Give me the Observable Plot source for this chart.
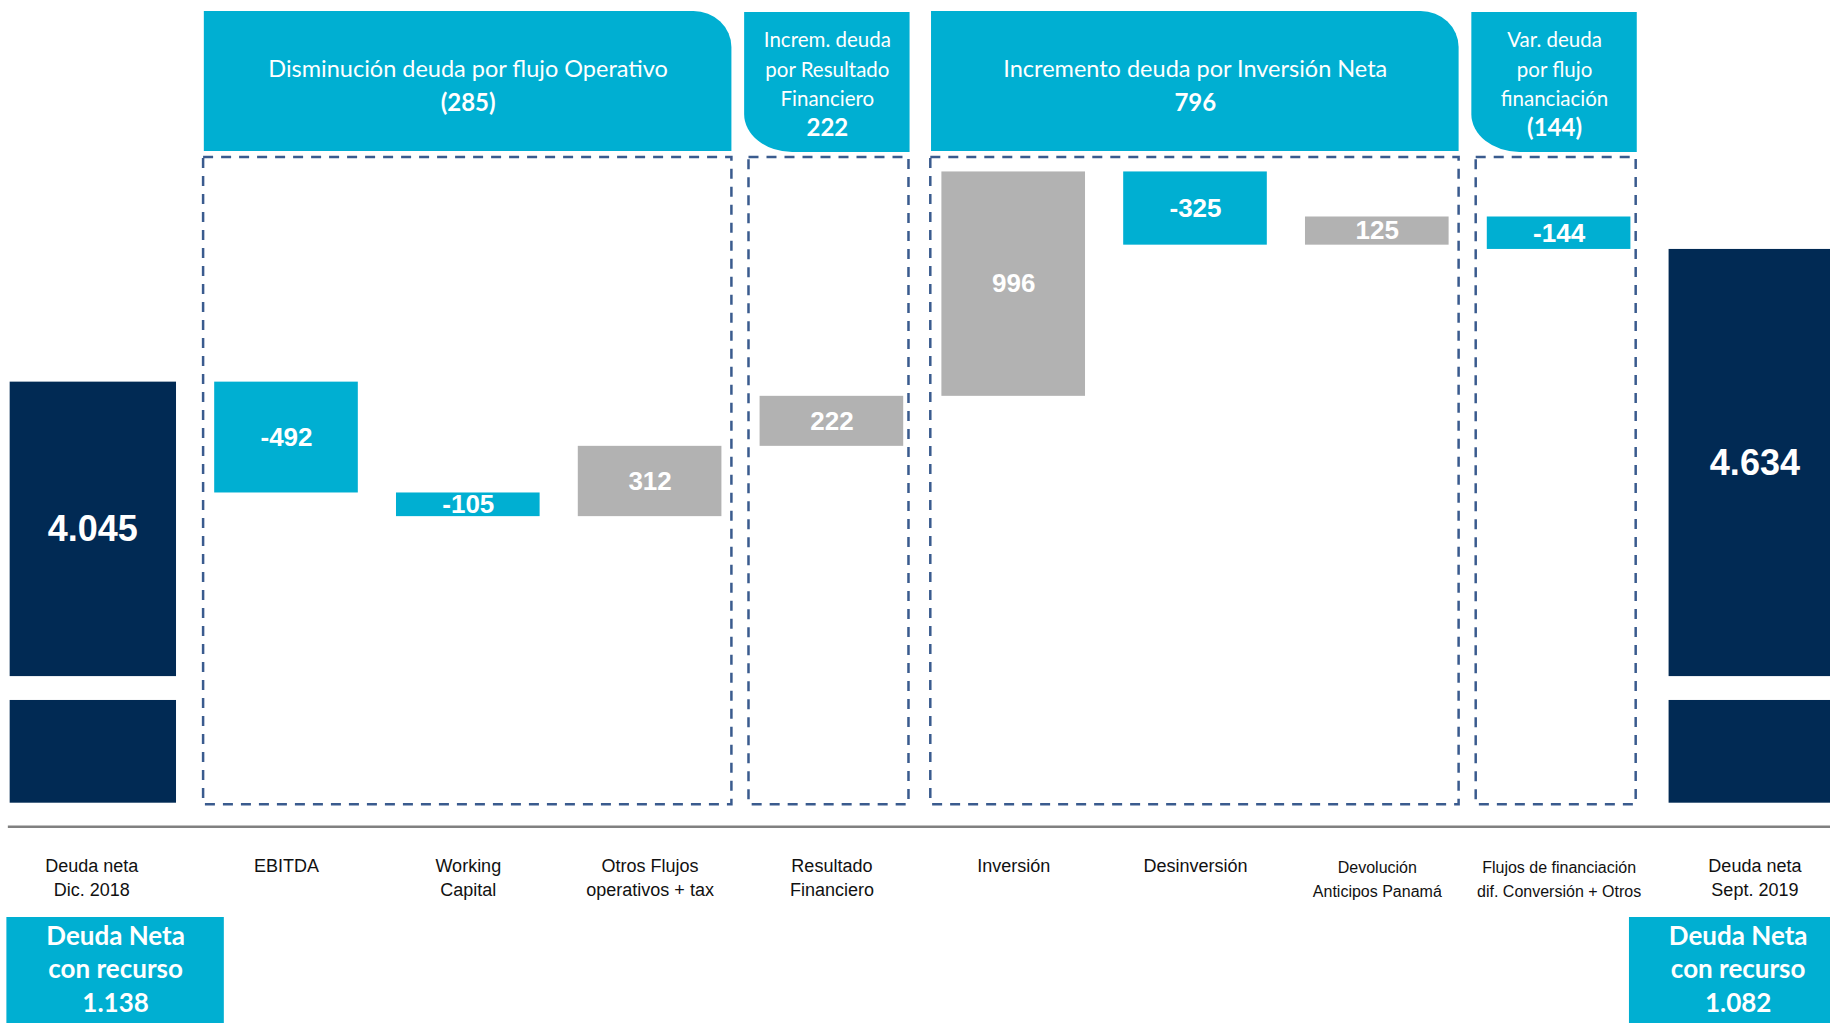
<!DOCTYPE html>
<html>
<head>
<meta charset="utf-8">
<script src="https://cdn.jsdelivr.net/npm/d3@7"></script>
<script src="https://cdn.jsdelivr.net/npm/@observablehq/plot@0.6"></script>
<style>
  html, body { margin: 0; padding: 0; background: #fff; overflow: hidden; }
  #chart svg { display: block; }
</style>
</head>
<body>
<div id="chart"></div>
<script>
// ---------------- DATA ----------------
const categories = [
  "Deuda neta\nDic. 2018",
  "EBITDA",
  "Working\nCapital",
  "Otros Flujos\noperativos + tax",
  "Resultado\nFinanciero",
  "Inversión",
  "Desinversión",
  "Devolución\nAnticipos Panamá",
  "Flujos de financiación\ndif. Conversión + Otros",
  "Deuda neta\nSept. 2019"
];
const barTypes = ["total", "flow", "flow", "flow", "flow", "flow", "flow", "flow", "flow", "total"];
const values = [4045, -492, -105, 312, 222, 996, -325, 125, -144, 4634];

const groupLabels = [
  "Disminución deuda por flujo Operativo",
  "Increm. deuda\npor Resultado\nFinanciero",
  "Incremento deuda por Inversión Neta",
  "Var. deuda\npor flujo\nfinanciación"
];
const groupFirst = [1, 4, 5, 8];
const groupLast = [3, 4, 7, 8];

const recursoLabel = "Deuda Neta\ncon recurso";
const recursoAt = [0, 9];
const recursoValues = [1138, 1082];

// ---------------- STYLE / LAYOUT ----------------
const CYAN = "#00AFD2", NAVY = "#012A54", GRAY = "#B2B2B2", DASH = "#3A5B8E", AXIS = "#808080";
const ARIAL = "Liberation Sans, Arial, sans-serif";
const CALI = "Lato, 'Open Sans', sans-serif";
const yBase = 2176;             // bottom of the broken value axis
const axisBreak = [2632, 2738]; // visual break drawn in the total bars
const yTop = 5739;
const half = 0.395, outer = 0.52;
const smallLabelIdx = new Set([7, 8]); // long labels set in a smaller font

const locale = d3.formatLocale({decimal: ",", thousands: ".", grouping: [3], currency: ["", ""], minus: "-"});
const fmtNum = locale.format(",d");
const fmtGroup = v => v < 0 ? `(${fmtNum(-v)})` : fmtNum(v);

// waterfall
let run = 0;
const bars = values.map((v, i) => {
  if (barTypes[i] === "total") { run = v; return {i, value: v, type: "total"}; }
  const start = run; run += v;
  return {i, value: v, type: "flow", start, end: run};
});
const flows = bars.filter(d => d.type === "flow");
const totals = bars.filter(d => d.type === "total");
const totalPieces = totals.flatMap(d => [
  {i: d.i, lo: yBase, hi: axisBreak[0]},
  {i: d.i, lo: axisBreak[1], hi: d.value}
]);
const isFirst = i => i === 0;

const groups = groupLabels.map((label, k) => {
  const narrow = groupFirst[k] === groupLast[k];
  const hl = narrow ? 0.48 : 0.452, hr = narrow ? 0.43 : 0.45;
  return {
    label, first: groupFirst[k], last: groupLast[k], narrow, hl, hr,
    value: d3.sum(values.slice(groupFirst[k], groupLast[k] + 1)),
    cx: (groupFirst[k] - hl + groupLast[k] + hr) / 2
  };
});
const recurso = recursoAt.map((i, k) => ({i, value: recursoValues[k], cx: i + (i === 0 ? 0.06 : -0.015)}));

const midIdx = d3.range(1, 9);
const axisText = {tickFormat: i => categories[i], tickSize: 0, fontFamily: ARIAL, fill: "#111", label: null};

const chart = Plot.plot({
  width: 1830, height: 1023,
  marginTop: 0, marginLeft: 0, marginRight: 0, marginBottom: 197,
  x: {domain: [-0.5, 9.5], range: [13.3, 1831.3], axis: null},
  y: {domain: [yBase, yTop], range: [802.7, 0], axis: null},
  style: {background: "white", overflow: "hidden"},
  marks: [
    Plot.rect(totalPieces, {
      x1: d => d.i - (isFirst(d.i) ? outer : half),
      x2: d => d.i + (isFirst(d.i) ? half : outer),
      y1: "lo", y2: "hi", fill: NAVY
    }),
    Plot.rect(flows, {
      x1: d => d.i - half, x2: d => d.i + half,
      y1: "start", y2: "end",
      fill: d => d.value < 0 ? CYAN : GRAY
    }),
    Plot.text(flows, {
      x: "i", y: d => (d.start + d.end) / 2, text: d => fmtNum(d.value),
      fill: "white", fontSize: 26, fontWeight: "bold", fontFamily: ARIAL
    }),
    Plot.text(totals.filter(d => isFirst(d.i)), {
      x: "i", dx: -12, y: d => (axisBreak[1] + d.value) / 2, text: d => fmtNum(d.value),
      fill: "white", fontSize: 36, fontWeight: "bold", fontFamily: ARIAL
    }),
    Plot.text(totals.filter(d => !isFirst(d.i)), {
      x: "i", dx: 14, y: d => (axisBreak[1] + d.value) / 2, text: d => fmtNum(d.value),
      fill: "white", fontSize: 36, fontWeight: "bold", fontFamily: ARIAL
    }),
    Plot.ruleY([yBase], {x1: -0.53, x2: 9.6, dy: 23.6, stroke: AXIS, strokeWidth: 2.5}),
    Plot.axisX([0], {...axisText, tickPadding: 28, dx: -13, fontSize: 18, lineHeight: 1.35}),
    Plot.axisX([9], {...axisText, tickPadding: 28, dx: 14, fontSize: 18, lineHeight: 1.35}),
    Plot.axisX(midIdx.filter(i => !smallLabelIdx.has(i)), {...axisText, tickPadding: 28, fontSize: 18, lineHeight: 1.35}),
    Plot.axisX(midIdx.filter(i => smallLabelIdx.has(i)), {...axisText, tickPadding: 29, fontSize: 16, lineHeight: 1.52}),
    // group headers text
    Plot.text(groups.filter(g => !g.narrow), {
      x: "cx", frameAnchor: "top", dy: 69, lineAnchor: "middle", text: "label",
      fill: "white", fontSize: 23.5, fontFamily: CALI
    }),
    Plot.text(groups.filter(g => !g.narrow), {
      x: "cx", frameAnchor: "top", dy: 103, lineAnchor: "middle", text: d => fmtGroup(d.value),
      fill: "white", fontSize: 24, fontWeight: "bold", fontFamily: CALI
    }),
    Plot.text(groups.filter(g => g.narrow), {
      x: "cx", frameAnchor: "top", dy: 67, lineAnchor: "middle", text: "label", lineHeight: 1.44,
      fill: "white", fontSize: 20.5, fontFamily: CALI
    }),
    Plot.text(groups.filter(g => g.narrow), {
      x: "cx", frameAnchor: "top", dy: 127.5, lineAnchor: "middle", text: d => fmtGroup(d.value),
      fill: "white", fontSize: 24, fontWeight: "bold", fontFamily: CALI
    }),
    // recurso boxes text
    Plot.text(recurso, {
      x: "cx", frameAnchor: "top", dy: 967, lineAnchor: "middle", lineHeight: 1.3,
      text: d => recursoLabel + "\n" + fmtNum(d.value),
      fill: "white", fontSize: 26, fontWeight: "bold", fontFamily: CALI
    })
  ]
});

// annotation shapes positioned with the plot's x scale
const X = chart.scale("x").apply, Y = chart.scale("y").apply;
const svg = d3.select(chart);
const under = svg.insert("g", "g");

function topRight(x0, y0, x1, y1, rx, ry) {
  return `M${x0},${y0}H${x1 - rx}A${rx},${ry} 0 0 1 ${x1},${y0 + ry}V${y1}H${x0}Z`;
}
function bottomLeft(x0, y0, x1, y1, rx, ry) {
  return `M${x0},${y0}H${x1}V${y1}H${x0 + rx}A${rx},${ry} 0 0 1 ${x0},${y1 - ry}Z`;
}
groups.forEach(g => {
  const x0 = X(g.first - g.hl), x1 = X(g.last + g.hr);
  under.append("path")
    .attr("d", g.narrow ? bottomLeft(x0, 12, x1, 152, 48, 38) : topRight(x0, 11, x1, 151, 38, 36))
    .attr("fill", CYAN);
  const d0 = X(g.first - 0.456), d1 = X(g.last + (g.narrow ? 0.424 : 0.45));
  under.append("rect")
    .attr("x", d0).attr("y", 157)
    .attr("width", d1 - d0)
    .attr("height", Y(yBase) + 1.5 - 157)
    .attr("fill", "none").attr("stroke", DASH).attr("stroke-width", 2.5)
    .attr("stroke-dasharray", "10,8");
});
recurso.forEach(r => {
  const x0 = X(r.cx - 0.598), x1 = X(r.cx + 0.598);
  under.append("rect").attr("x", x0).attr("y", 917).attr("width", x1 - x0).attr("height", 120).attr("fill", CYAN);
});

document.getElementById("chart").append(chart);
</script>
</body>
</html>
